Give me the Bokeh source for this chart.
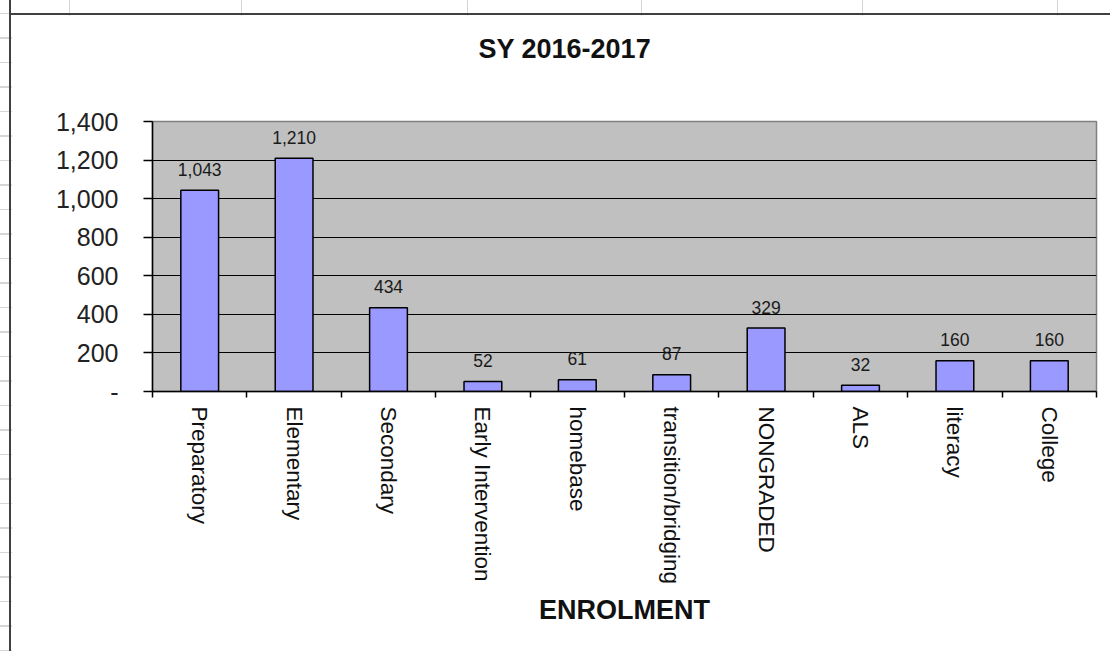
from bokeh.plotting import figure
from bokeh.models import ColumnDataSource, FixedTicker, NumeralTickFormatter, Range1d, Title
from bokeh.layouts import column
from bokeh.core.properties import value
from bokeh.embed import file_html
from bokeh.resources import INLINE

# ---- data ----
categories = ["Preparatory", "Elementary", "Secondary", "Early Intervention", "homebase",
              "transition/bridging", "NONGRADED", "ALS", "literacy", "College"]
enrolment = [1043, 1210, 434, 52, 61, 87, 329, 32, 160, 160]
y_ticks = [0, 200, 400, 600, 800, 1000, 1200, 1400]
chart_title = "SY 2016-2017"
x_title = "ENROLMENT"

FONT = "Liberation Sans"

positions = list(range(1, len(categories) + 1))
boundaries = [i + 0.5 for i in range(0, len(categories) + 1)]
source = ColumnDataSource(dict(x=positions, y=enrolment, label=[f"{v:,}" for v in enrolment]))

p = figure(width=1099, height=636, title=None,
           x_range=Range1d(0.5, len(categories) + 0.5), y_range=Range1d(y_ticks[0], y_ticks[-1]),
           output_backend="svg", toolbar_location=None,
           min_border_left=141, min_border_top=106, min_border_right=14, min_border_bottom=260,
           background_fill_color="#C0C0C0", border_fill_color="white",
           outline_line_color="#808080", outline_line_width=1.5,
           margin=(15, 0, 0, 11))

# spacer panel between the frame and the title
p.add_layout(Title(text=" ", text_font=FONT, text_font_size="20px", standoff=29), "above")
p.add_layout(Title(text=chart_title, align="left", offset=326, standoff=10, text_font=FONT,
                   text_font_style="bold", text_font_size="27px", text_color="#111111"), "above")

p.vbar(x="x", top="y", width=0.4, source=source, fill_color="#9999FF",
       line_color="black", line_width=1.5)
p.text(x="x", y="y", text="label", source=source, text_align="center",
       text_baseline="alphabetic", y_offset=-21, text_font=value(FONT),
       text_font_size="17.5px", text_color="#1a1a1a")

# grid
p.xgrid.visible = False
p.ygrid.ticker = FixedTicker(ticks=y_ticks[1:-1])
p.ygrid.grid_line_color = "black"
p.ygrid.grid_line_width = 1

# y axis
ya = p.yaxis[0]
ya.ticker = FixedTicker(ticks=y_ticks)
ya.formatter = NumeralTickFormatter(format="0,0")
ya.major_label_overrides = {0: "-"}
ya.axis_line_color = "black"
ya.axis_line_width = 1.5
ya.major_tick_line_color = "black"
ya.major_tick_line_width = 1.5
ya.major_tick_out = 9
ya.major_tick_in = 0
ya.minor_tick_line_color = None
ya.major_label_text_font = FONT
ya.major_label_text_font_size = "25px"
ya.major_label_text_color = "#222222"
ya.major_label_standoff = 25

# x axis
xa = p.xaxis[0]
xa.ticker = FixedTicker(ticks=positions, minor_ticks=boundaries)
xa.major_label_overrides = {pos: name for pos, name in zip(positions, categories)}
xa.major_label_orientation = "vertical"
xa.axis_line_color = "black"
xa.axis_line_width = 1.5
xa.major_tick_out = 0
xa.major_tick_in = 0
xa.major_tick_line_color = None
xa.minor_tick_out = 6
xa.minor_tick_in = 0
xa.minor_tick_line_color = "black"
xa.minor_tick_line_width = 1.5
xa.major_label_text_font = FONT
xa.major_label_text_font_size = "22.5px"
xa.major_label_text_color = "#111111"
xa.major_label_standoff = 9
xa.axis_label = x_title
xa.axis_label_text_font = FONT
xa.axis_label_text_font_style = "bold"
xa.axis_label_text_font_size = "27px"
xa.axis_label_text_color = "#111111"
xa.axis_label_standoff = 8

grid_col = "#d6d6d6"
vlines = [69, 241, 467, 641, 862, 1057]
stops = []
for v in vlines:
    stops.append(f"transparent {v}px, {grid_col} {v}px, {grid_col} {v+1}px, transparent {v+1}px")
vgrad = "linear-gradient(to right, " + ", ".join(stops) + ")"

wrapper = column(p, width=1110, height=651, sizing_mode="fixed", styles={
    "background-color": "white",
    "background-image": ", ".join([
        "linear-gradient(to right, transparent 9px, #404040 9px, #404040 11px, transparent 11px)",
        "linear-gradient(to bottom, transparent 13px, #404040 13px, #404040 15px, transparent 15px)",
        vgrad,
        f"repeating-linear-gradient(to bottom, {grid_col} 0px, {grid_col} 1px, transparent 1px, transparent 24.5px)",
    ]),
    "background-position": "0 0, 9px 0, 0 0, 0 13px",
    "background-repeat": "no-repeat, no-repeat, no-repeat, repeat",
})

open("out.html", "w").write(file_html(wrapper, INLINE))
